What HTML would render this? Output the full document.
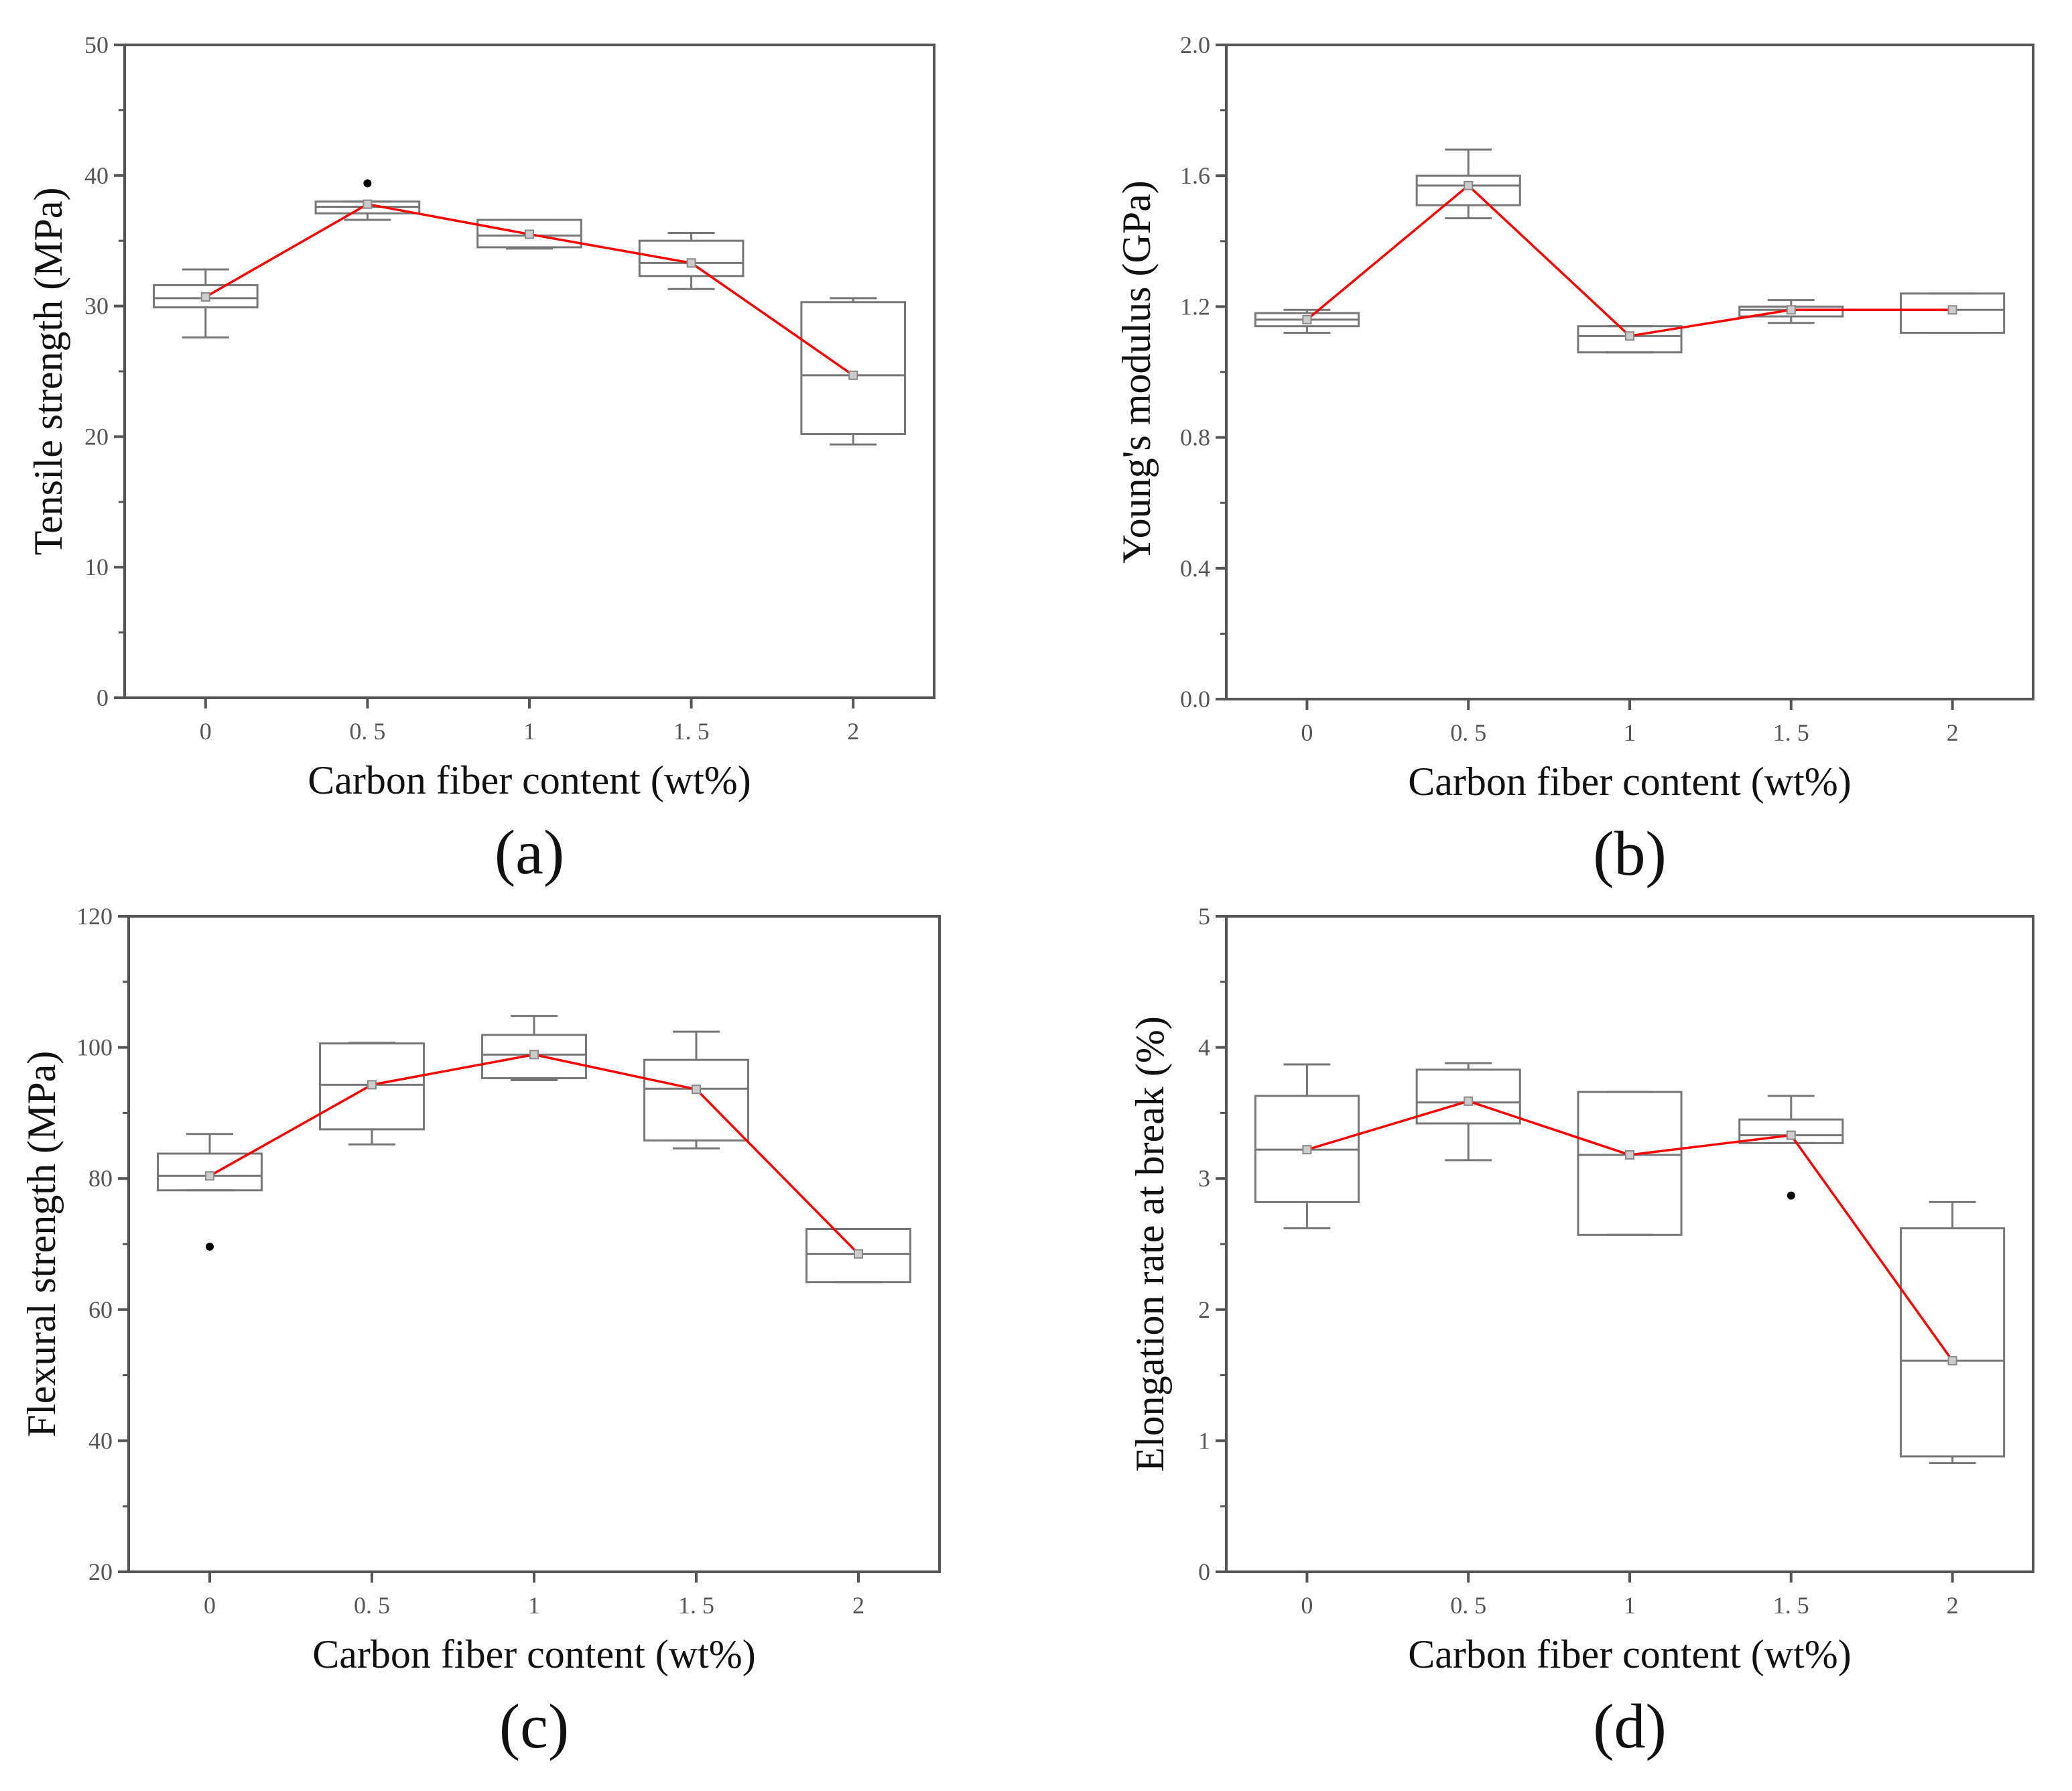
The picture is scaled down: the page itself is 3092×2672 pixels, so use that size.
<!DOCTYPE html>
<html><head><meta charset="utf-8">
<style>
html,body{margin:0;padding:0;background:#fff;}
svg{display:block;}
text{font-family:"Liberation Serif","Noto Serif CJK SC",serif;}
</style></head>
<body>
<svg id="fig" width="3092" height="2672" viewBox="0 0 3092 2672" xmlns="http://www.w3.org/2000/svg"></svg>
<script>
const categories = ["0","0.5","1","1.5","2"];
// Panel a: tensile strength
const aWhiskLow = [27.6,36.6,34.4,31.3,19.4];
const aBoxLow   = [29.9,37.1,34.5,32.3,20.2];
const aMedian   = [30.6,37.6,35.4,33.3,24.7];
const aBoxHigh  = [31.6,38.0,36.6,35.0,30.3];
const aWhiskHigh= [32.8,38.0,36.6,35.6,30.6];
const aMean     = [30.7,37.8,35.5,33.3,24.7];
const aOutliers = [[1,39.4]];
const aTicks = [0,10,20,30,40,50];
// Panel b: Young's modulus
const bWhiskLow = [1.12,1.47,1.06,1.15,1.12];
const bBoxLow   = [1.14,1.51,1.06,1.17,1.12];
const bMedian   = [1.16,1.57,1.11,1.19,1.19];
const bBoxHigh  = [1.18,1.60,1.14,1.20,1.24];
const bWhiskHigh= [1.19,1.68,1.14,1.22,1.24];
const bMean     = [1.16,1.57,1.11,1.19,1.19];
const bOutliers = [];
const bTicks = ["0.0","0.4","0.8","1.2","1.6","2.0"];
// Panel c: flexural strength
const cWhiskLow = [78.2,85.2,95.0,84.6,64.2];
const cBoxLow   = [78.2,87.5,95.3,85.8,64.2];
const cMedian   = [80.4,94.3,98.9,93.7,68.5];
const cBoxHigh  = [83.8,100.6,101.9,98.1,72.3];
const cWhiskHigh= [86.8,100.7,104.8,102.4,72.3];
const cMean     = [80.4,94.3,98.9,93.6,68.5];
const cOutliers = [[0,69.6]];
const cTicks = [20,40,60,80,100,120];
// Panel d: elongation
const dWhiskLow = [2.62,3.14,2.57,3.27,0.83];
const dBoxLow   = [2.82,3.42,2.57,3.27,0.88];
const dMedian   = [3.22,3.58,3.18,3.33,1.61];
const dBoxHigh  = [3.63,3.83,3.66,3.45,2.62];
const dWhiskHigh= [3.87,3.88,3.66,3.63,2.82];
const dMean     = [3.22,3.59,3.18,3.33,1.61];
const dOutliers = [[3,2.87]];
const dTicks = [0,1,2,3,4,5];

const NS="http://www.w3.org/2000/svg";
const fig=document.getElementById('fig');
function mk(tag,attrs,parent){const e=document.createElementNS(NS,tag);for(const k in attrs)e.setAttribute(k,attrs[k]);(parent||fig).appendChild(e);return e;}

function panel(cfg){
  const g=mk('g',{});
  
  
  const L=cfg.L,R=cfg.R,T=cfg.T,B=cfg.B;
  const ymin=cfg.ymin,ymax=cfg.ymax;
  const sy=v=>B-(v-ymin)/(ymax-ymin)*(B-T);
  const step=(R-L)/categories.length;
  const sx=i=>L+step*(i+0.5);
  const fr=mk('rect',{x:L,y:T,width:R-L,height:B-T,fill:'none',stroke:'#555',"stroke-width":4},g);
  
  
  const nt=cfg.ticks.length;
  for(let k=0;k<nt;k++){
    const v=ymin+(ymax-ymin)*k/(nt-1);
    const y=sy(v);
    mk('line',{x1:L-16,x2:L,y1:y,y2:y,stroke:'#555',"stroke-width":4},g);
    const t=mk('text',{x:L-24,y:y+12,"text-anchor":"end","font-size":36,fill:'#555'},g);
    t.textContent=String(cfg.ticks[k]);
    
    
    if(k<nt-1){const ym=sy(v+(ymax-ymin)/(nt-1)/2);mk('line',{x1:L-9,x2:L,y1:ym,y2:ym,stroke:'#555',"stroke-width":3},g);}
  }
  categories.forEach((c,i)=>{
    const x=sx(i);
    mk('line',{x1:x,x2:x,y1:B,y2:B+16,stroke:'#555',"stroke-width":4},g);
    const t=mk('text',{x:x,y:B+62,"text-anchor":"middle","font-size":36,fill:'#555'},g);
    t.textContent=c.replace('.','. ');
    
    
  });
  const bw=step*0.64, cw=step*0.29;
  const d=cfg.data;
  categories.forEach((c,i)=>{
    const x=sx(i);
    const bg=mk('g',{stroke:'#777',"stroke-width":3,fill:'none'},g);
    
    
    mk('line',{x1:x,x2:x,y1:sy(d.wl[i]),y2:sy(d.bl[i])},bg);
    mk('line',{x1:x,x2:x,y1:sy(d.bh[i]),y2:sy(d.wh[i])},bg);
    mk('line',{x1:x-cw/2,x2:x+cw/2,y1:sy(d.wl[i]),y2:sy(d.wl[i])},bg);
    mk('line',{x1:x-cw/2,x2:x+cw/2,y1:sy(d.wh[i]),y2:sy(d.wh[i])},bg);
    mk('rect',{x:x-bw/2,y:sy(d.bh[i]),width:bw,height:Math.max(1,sy(d.bl[i])-sy(d.bh[i]))},bg);
    mk('line',{x1:x-bw/2,x2:x+bw/2,y1:sy(d.md[i]),y2:sy(d.md[i])},bg);
  });
  const pts=d.mn.map((v,i)=>sx(i)+','+sy(v)).join(' ');
  const pl=mk('polyline',{points:pts,fill:'none',stroke:'#f00',"stroke-width":3.5},g);
  
  
  d.mn.forEach((v,i)=>{
    const r=mk('rect',{x:sx(i)-6,y:sy(v)-6,width:12,height:12,fill:'#ccc',stroke:'#888',"stroke-width":2},g);
    
    
  });
  d.out.forEach(o=>{
    const c=mk('circle',{cx:sx(o[0]),cy:sy(o[1]),r:6,fill:'#000'},g);
    
    
  });
  const xt=mk('text',{x:(L+R)/2,y:B+143,"text-anchor":"middle","font-size":60,fill:'#111'},g);
  xt.textContent='Carbon fiber content (wt%)';
  
  
  const yt=mk('text',{x:0,y:0,"text-anchor":"middle","font-size":60,fill:'#111',transform:`translate(${cfg.ytx},${(T+B)/2}) rotate(-90)`},g);
  yt.textContent=cfg.ytitle;
  
  
  const pl2=mk('text',{x:(L+R)/2,y:B+262,"text-anchor":"middle","font-size":94,fill:'#111'},g);
  pl2.textContent='('+cfg.id+')';
  
  
}
panel({id:'a',L:186,R:1394,T:67,B:1041,ymin:0,ymax:50,ticks:aTicks,ytitle:'Tensile strength (MPa)',ytx:92,
  data:{wl:aWhiskLow,bl:aBoxLow,md:aMedian,bh:aBoxHigh,wh:aWhiskHigh,mn:aMean,out:aOutliers}});
panel({id:'b',L:1830,R:3034,T:67,B:1043,ymin:0,ymax:2,ticks:bTicks,ytitle:"Young's modulus (GPa)",ytx:1716,
  data:{wl:bWhiskLow,bl:bBoxLow,md:bMedian,bh:bBoxHigh,wh:bWhiskHigh,mn:bMean,out:bOutliers}});
panel({id:'c',L:192,R:1402,T:1367,B:2345,ymin:20,ymax:120,ticks:cTicks,ytitle:'Flexural strength (MPa)',ytx:82,
  data:{wl:cWhiskLow,bl:cBoxLow,md:cMedian,bh:cBoxHigh,wh:cWhiskHigh,mn:cMean,out:cOutliers}});
panel({id:'d',L:1830,R:3034,T:1367,B:2345,ymin:0,ymax:5,ticks:dTicks,ytitle:'Elongation rate at break (%)',ytx:1736,
  data:{wl:dWhiskLow,bl:dBoxLow,md:dMedian,bh:dBoxHigh,wh:dWhiskHigh,mn:dMean,out:dOutliers}});
</script>
</body></html>
